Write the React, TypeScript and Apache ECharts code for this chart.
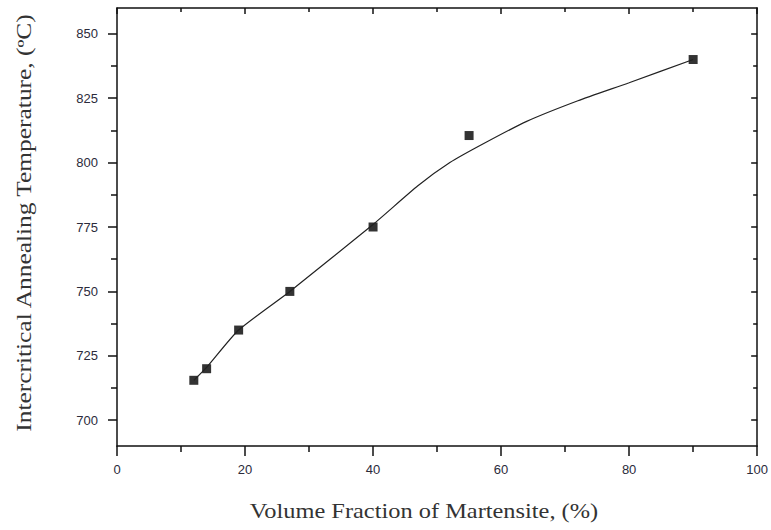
import React, { useEffect, useRef } from "react";
import * as echarts from "echarts";

const measuredX = [12, 14, 19, 27, 40, 55, 90];
const measuredY = [715.5, 720, 735, 750, 775, 810.5, 840];

const fitX = [12, 14, 19, 27, 40, 47, 52, 57, 64, 72, 80, 90];
const fitY = [715.5, 720.5, 735, 750, 776, 791, 800, 807, 816, 824, 831, 840];

const yMajorTicks = [700, 725, 750, 775, 800, 825, 850];
const yMinorTicks = [712.5, 737.5, 762.5, 787.5, 812.5, 837.5];

const xTitle = "Volume Fraction of Martensite, (%)";
const yTitle = "Intercritical Annealing Temperature, (\u00baC)";

export default function App() {
  const ref = useRef<HTMLDivElement>(null);
  useEffect(() => {
    if (!ref.current) return;
    const chart = echarts.init(ref.current, undefined, { renderer: "svg" });
    const labelStyle = {
      fontFamily: "Liberation Sans",
      fontSize: 13,
      color: "#2b2b3b",
    };
    const titleFont = {
      fontFamily: "Liberation Serif",
      fontSize: 20,
      fill: "#333",
    };
    const tickStyle = { color: "#111", width: 1.5 };
    const line = { show: true, lineStyle: { color: "#111", width: 1.5 } };
    chart.setOption({
      animation: false,
      backgroundColor: "#fff",
      grid: { left: 117, right: 12, top: 8, bottom: 84, containLabel: false },
      xAxis: [
        {
          type: "value",
          position: "bottom",
          min: 0,
          max: 100,
          interval: 20,
          axisLine: line,
          axisTick: { show: true, inside: false, length: 10, lineStyle: tickStyle },
          minorTick: { show: true, splitNumber: 2, length: 6, lineStyle: tickStyle },
          splitLine: { show: false },
          axisLabel: { ...labelStyle, margin: 17 },
        },
        {
          type: "value",
          position: "top",
          min: 0,
          max: 100,
          interval: 20,
          axisLine: line,
          axisTick: { show: true, inside: true, length: 6, lineStyle: tickStyle },
          minorTick: { show: true, splitNumber: 2, length: 4, lineStyle: tickStyle },
          splitLine: { show: false },
          axisLabel: { show: false },
        },
      ],
      yAxis: [
        {
          type: "value",
          position: "left",
          min: 690,
          max: 860,
          axisLine: line,
          axisTick: {
            show: true,
            inside: false,
            length: 9,
            customValues: yMajorTicks,
            lineStyle: tickStyle,
          },
          axisLabel: { ...labelStyle, margin: 19, customValues: yMajorTicks },
          splitLine: { show: false },
        },
        {
          type: "value",
          position: "left",
          min: 690,
          max: 860,
          axisLine: { show: false },
          axisTick: {
            show: true,
            inside: false,
            length: 6,
            customValues: yMinorTicks,
            lineStyle: tickStyle,
          },
          axisLabel: { show: false },
          splitLine: { show: false },
        },
        {
          type: "value",
          position: "right",
          min: 690,
          max: 860,
          axisLine: line,
          axisTick: {
            show: true,
            inside: true,
            length: 6,
            customValues: yMajorTicks,
            lineStyle: tickStyle,
          },
          axisLabel: { show: false },
          splitLine: { show: false },
        },
        {
          type: "value",
          position: "right",
          min: 690,
          max: 860,
          axisLine: { show: false },
          axisTick: {
            show: true,
            inside: true,
            length: 4,
            customValues: yMinorTicks,
            lineStyle: tickStyle,
          },
          axisLabel: { show: false },
          splitLine: { show: false },
        },
      ],
      graphic: [
        {
          type: "text",
          x: 424,
          y: 511,
          scaleX: 1.22,
          style: { ...titleFont, text: xTitle, textAlign: "center", textVerticalAlign: "middle" },
        },
        {
          type: "text",
          x: 24,
          y: 223,
          rotation: Math.PI / 2,
          scaleX: 1.27,
          style: { ...titleFont, text: yTitle, textAlign: "center", textVerticalAlign: "middle" },
        },
      ],
      series: [
        {
          type: "line",
          data: fitX.map((x, i) => [x, fitY[i]]),
          smooth: 0.2,
          showSymbol: false,
          symbol: "none",
          lineStyle: { color: "#222", width: 1.2 },
          xAxisIndex: 0,
          yAxisIndex: 0,
          silent: true,
        },
        {
          type: "scatter",
          data: measuredX.map((x, i) => [x, measuredY[i]]),
          symbol: "rect",
          symbolSize: 9,
          itemStyle: { color: "#000" },
          xAxisIndex: 0,
          yAxisIndex: 0,
        },
      ],
    });
    return () => chart.dispose();
  }, []);
  return <div ref={ref} style={{ width: 771, height: 530, position: "absolute", left: 0, top: 0 }} />;
}
